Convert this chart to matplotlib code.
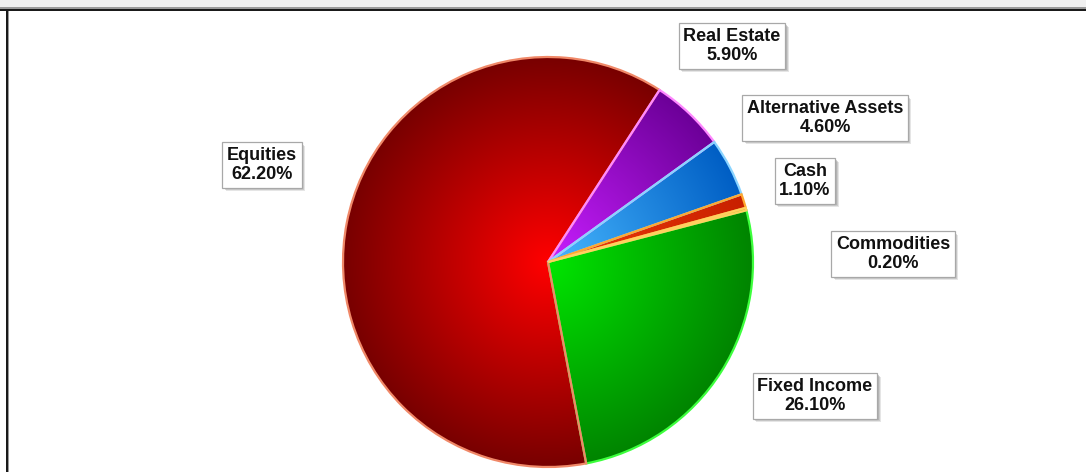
import numpy as np
import matplotlib
matplotlib.use("Agg")
import matplotlib.pyplot as plt
from matplotlib.patches import Rectangle
from matplotlib.colors import to_rgb

# Portfolio allocation, in the order the slices run clockwise
categories = ["Fixed Income", "Equities", "Real Estate",
              "Alternative Assets", "Cash", "Commodities"]
weights = [26.10, 62.20, 5.90, 4.60, 1.10, 0.20]

# (centre colour, rim colour, outline colour) per slice
palette = {
    "Fixed Income":       ("#00e600", "#008400", "#3cff3c"),
    "Equities":           ("#ff0000", "#780000", "#f08868"),
    "Real Estate":        ("#c81eff", "#6c0098", "#ff88ff"),
    "Alternative Assets": ("#48b8ff", "#005ec4", "#8ad4ff"),
    "Cash":               ("#f03c08", "#c82000", "#ffa830"),
    "Commodities":        ("#ffb400", "#e08800", "#ffd060"),
}

# label box centres (pixels from the top-left corner)
label_pos = {
    "Fixed Income":       (815, 396),
    "Equities":           (262, 165),
    "Real Estate":        (732, 46),
    "Alternative Assets": (825, 118),
    "Cash":               (805, 181),
    "Commodities":        (893, 254),
}

W, H = 1086, 472
CX, CY, R = 548, 262, 205


def Y(y):
    return H - y


fig = plt.figure(figsize=(W / 100, H / 100), dpi=100)
ax = fig.add_axes([0, 0, 1, 1])

wedges, _ = ax.pie(weights, center=(CX, Y(CY)), radius=R, startangle=14.6,
                   counterclock=False, frame=True)
ax.set_xlim(0, W)
ax.set_ylim(0, H)
ax.set_aspect("equal")
ax.axis("off")

# radial shading, clipped to each wedge
n = 600
xs = np.linspace(-1, 1, n)
gx, gy = np.meshgrid(xs, xs)
rr = np.clip(np.hypot(gx, gy), 0, 1)[..., None]
extent = (CX - R, CX + R, Y(CY) - R, Y(CY) + R)
for w, name in zip(wedges, categories):
    c0, c1, ec = palette[name]
    a = np.array(to_rgb(c0))
    b = np.array(to_rgb(c1))
    img = a * (1 - rr) + b * rr
    w.set_facecolor("none")
    w.set_edgecolor("none")
    im = ax.imshow(img, extent=extent, origin="lower", zorder=1,
                   interpolation="bilinear")
    im.set_clip_path(w)
for w, name in zip(wedges, categories):
    w.set_edgecolor(palette[name][2])
    w.set_linewidth(1.6)
    w.set_zorder(2)

# value labels in white boxes
labels = []
for name, val in zip(categories, weights):
    x, y = label_pos[name]
    t = ax.text(x, Y(y), f"{name}\n{val:.2f}%", color="#111111", zorder=4,
                ha="center", va="center", fontsize=13, fontweight="bold",
                family=["Liberation Sans", "DejaVu Sans"], linespacing=1.15,
                bbox=dict(boxstyle="square,pad=0.26", fc="white",
                          ec="#a8a8a8", lw=0.9))
    labels.append(t)

# soft drop shadow behind each box
fig.canvas.draw()
renderer = fig.canvas.get_renderer()
inv = ax.transData.inverted()
for t in labels:
    bb = t.get_bbox_patch().get_window_extent(renderer)
    (x0, y0), (x1, y1) = inv.transform([[bb.x0, bb.y0], [bb.x1, bb.y1]])
    for k, al in ((3.5, 0.25), (2.5, 0.35), (1.5, 0.45)):
        ax.add_patch(Rectangle((x0 + k, y0 - k), x1 - x0, y1 - y0,
                               fc="#9a9a9a", ec="none", alpha=al, zorder=3))

# window frame: grey strip at the top with dark rules
ax.add_patch(Rectangle((0, Y(7)), W, 7, fc="#f0f0f0", ec="none", zorder=5))
ax.add_patch(Rectangle((0, Y(9)), W, 2, fc="#9a9a9a", ec="none", zorder=5))
ax.add_patch(Rectangle((0, Y(11)), W, 2, fc="#1a1a1a", ec="none", zorder=5))
ax.add_patch(Rectangle((6, 0), 2, Y(9), fc="#1a1a1a", ec="none", zorder=5))
ax.add_patch(Rectangle((8, 0), 1, Y(11), fc="#9a9a9a", ec="none", zorder=5))

fig.savefig("out.png", dpi=100)
